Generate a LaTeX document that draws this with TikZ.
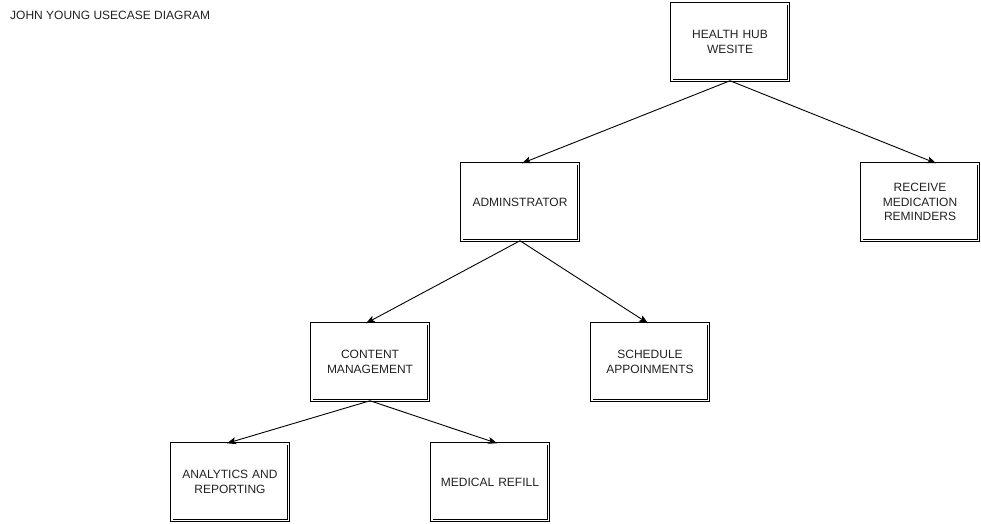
\documentclass[tikz,border=0pt]{standalone}
\usepackage{fontspec}
\setmainfont{Liberation Sans}
\usetikzlibrary{arrows.meta}
\definecolor{txt}{HTML}{222222}
\begin{document}
\begin{tikzpicture}[x=1pt,y=-1pt,
  usecase/.style={draw, double, double distance=1.6pt, line width=0.9pt,
    minimum width=116.6pt, minimum height=76.6pt, align=center, text width=104pt,
    font=\fontsize{12}{14.5}\selectfont, text=txt, inner sep=0pt},
  link/.style={line width=0.9pt, -{Stealth[length=9pt,width=7pt,inset=2pt]}}]
\useasboundingbox (0,0) rectangle (981,523);
\node[anchor=west, font=\fontsize{12}{14}\selectfont, text=txt, inner sep=0pt] (title) at (10,15) {JOHN YOUNG USECASE DIAGRAM};
\node[usecase] (hh) at (730,42) {HEALTH HUB\\WESITE};
\node[usecase] (adm) at (520,202) {ADMINSTRATOR};
\node[usecase] (rcv) at (920,202) {RECEIVE\\MEDICATION\\REMINDERS};
\node[usecase] (cm) at (370,362) {CONTENT\\MANAGEMENT};
\node[usecase] (sch) at (650,362) {SCHEDULE\\APPOINMENTS};
\node[usecase] (ana) at (230,482) {ANALYTICS AND\\REPORTING};
\node[usecase] (med) at (490,482) {MEDICAL REFILL};
\draw[link] (hh.south) -- ([xshift=2pt]adm.north);
\draw[link] (hh.south) -- ([xshift=16pt]rcv.north);
\draw[link] (adm.south) -- ([xshift=-4pt]cm.north);
\draw[link] (adm.south) -- ([xshift=-2pt]sch.north);
\draw[link] (cm.south) -- ([xshift=-3pt]ana.north);
\draw[link] (cm.south) -- ([xshift=7pt]med.north);
\end{tikzpicture}
\end{document}
